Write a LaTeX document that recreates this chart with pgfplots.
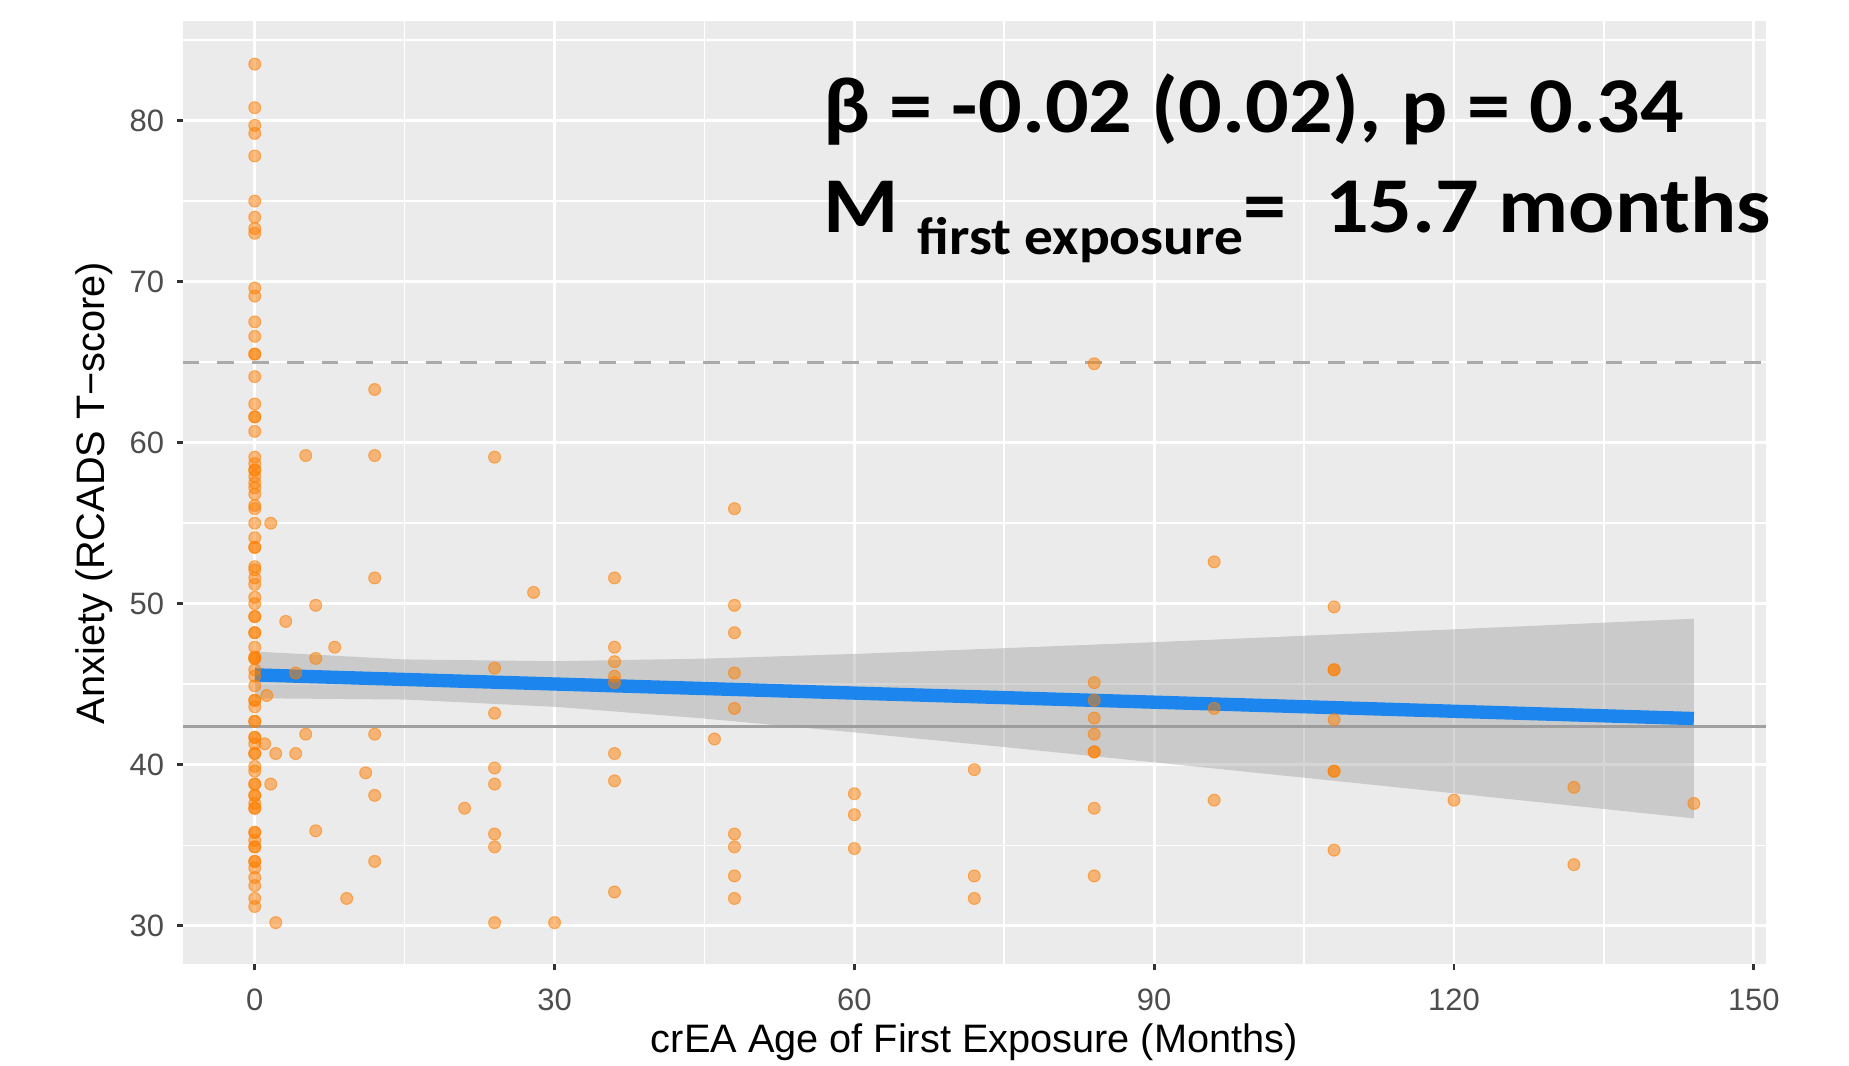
\documentclass[border=0pt]{standalone}
\usepackage{fontspec}
\setmainfont{Liberation Sans}
\newfontfamily\calib[FakeStretch=1.09]{Carlito}
\usepackage{pgfplots}
\pgfplotsset{compat=1.18}
\definecolor{panel}{RGB}{235,235,235}
\definecolor{ptorange}{RGB}{255,127,0}
\definecolor{fitblue}{RGB}{28,134,238}
\definecolor{ticktext}{RGB}{77,77,77}
\definecolor{tickmark}{RGB}{51,51,51}
\definecolor{refgray}{RGB}{160,160,160}
\definecolor{dashgray}{RGB}{170,170,170}
\definecolor{bandgray}{RGB}{153,153,153}

% anxiety T-scores by age of first exposure (months)
\pgfplotstableread{
x y
0 83.5
0 80.8
0 79.7
0 79.2
0 77.8
0 75.0
0 74.0
0 73.3
0 73.0
0 69.6
0 69.1
0 67.5
0 66.6
0 65.5
0 65.5
0 64.1
0 62.4
0 61.6
0 61.6
0 60.7
0 59.1
0 58.7
0 58.3
0 58.3
0 57.9
0 57.5
0 57.2
0 56.8
0 56.1
0 55.9
0 55.0
0 54.1
0 53.5
0 53.5
0 52.3
0 52.1
0 51.6
0 51.2
0 50.4
0 50.0
0 49.2
0 49.2
0 48.2
0 48.2
0 47.3
0 46.7
0 46.6
0 46.6
0 45.9
0 45.5
0 44.9
0 44.0
0 44.0
0 43.6
0 42.7
0 42.7
0 41.7
0 41.7
0 41.3
0 40.7
0 40.7
0 39.9
0 39.6
0 38.8
0 38.8
0 38.1
0 38.1
0 37.6
0 37.3
0 37.3
0 35.8
0 35.8
0 35.3
0 34.9
0 34.9
0 34.0
0 34.0
0 33.6
0 33.0
0 32.5
0 31.7
0 31.2
1.2 44.3
1.0 41.3
1.6 55.0
1.6 38.8
2.1 40.7
2.1 30.2
3.1 48.9
4.1 45.7
4.1 40.7
5.1 59.2
5.1 41.9
6.1 49.9
6.1 46.6
6.1 35.9
8.0 47.3
9.2 31.7
11.1 39.5
12 63.3
12 59.2
12 51.6
12 41.9
12 38.1
12 34.0
21 37.3
24 59.1
24 46.0
24 43.2
24 39.8
24 38.8
24 35.7
24 34.9
24 30.2
27.9 50.7
30 30.2
36 51.6
36 47.3
36 46.4
36 45.5
36 45.1
36 40.7
36 39.0
36 32.1
46 41.6
48 55.9
48 49.9
48 48.2
48 45.7
48 43.5
48 35.7
48 34.9
48 33.1
48 31.7
60 38.2
60 36.9
60 34.8
72 39.7
72 33.1
72 31.7
84 64.9
84 45.1
84 44.0
84 42.9
84 41.9
84 40.8
84 40.8
84 37.3
84 33.1
96 52.6
96 43.5
96 37.8
108 49.8
108 45.9
108 45.9
108 42.8
108 39.6
108 39.6
108 34.7
120 37.8
132 38.6
132 33.8
144 37.6
}\scores

\begin{document}
\begin{tikzpicture}
\path[use as bounding box] (-18.28mm,-10.15mm) rectangle (166.62mm,96.45mm);
\begin{axis}[
  scale only axis,
  width=158.3mm, height=94.3mm,
  xmin=-7.2, xmax=151.2, ymin=27.6, ymax=86.15,
  axis background/.style={fill=panel},
  axis line style={draw=none},
  xtick={0,30,...,150}, ytick={30,40,...,80},
  minor xtick={15,45,...,135}, minor ytick={35,45,...,85},
  grid=both,
  major grid style={white, line width=0.85pt},
  minor grid style={white, line width=0.45pt},
  tick align=outside, major tick length=0.6mm, minor tick length=0pt,
  xtick pos=bottom, ytick pos=left,
  tick style={tickmark, line width=0.85pt},
  /pgf/number format/assume math mode=true,
  ticklabel style={font=\fontsize{8.8}{10}\selectfont, text=ticktext, inner sep=0pt},
  xticklabel style={anchor=north},
  yticklabel style={anchor=east},
  xticklabel shift=1.75mm, yticklabel shift=1.2mm,
  xlabel={crEA Age of First Exposure (Months)},
  ylabel={Anxiety (RCADS T−score)},
  label style={font=\fontsize{11.3}{13}\selectfont},
  xlabel style={at={(axis description cs:0.5,-0.0822)}, anchor=center},
  ylabel style={at={(axis description cs:-0.0562,0.5)}, anchor=center},
  clip mode=individual,
]
\addplot[dashgray, line width=0.85pt, dash pattern=on 1.67mm off 1.8mm] coordinates {(-7.2,65) (151.2,65)};
\addplot[refgray, line width=0.85pt] coordinates {(-7.2,42.37) (151.2,42.37)};
% 95% confidence band
\addplot[draw=none, fill=bandgray, fill opacity=0.4] coordinates {
  (0,47.03) (15,46.54) (30,46.43) (45,46.59) (60,46.88) (75,47.24)
  (90,47.61) (105,48.01) (120,48.41) (144,49.07)
  (144,36.67) (120,38.23) (105,39.20) (90,40.15) (75,41.10) (60,42.01)
  (45,42.87) (30,43.60) (15,44.05) (0,44.13)
} -- cycle;
\addplot[fitblue, line width=3.8pt, line cap=butt] coordinates {(0,45.58) (144,42.87)};
\addplot[only marks, mark=*, mark size=1.7pt,
  mark options={fill=ptorange, fill opacity=0.5, draw=ptorange, draw opacity=0.55, line width=0.3pt}]
  table[x=x, y=y] {\scores};
\node[anchor=base west, inner sep=0pt, font=\calib\bfseries\fontsize{22.5}{26}\selectfont]
  at (axis cs:56.8,79.23) {β = -0.02 (0.02), p = 0.34};
\node[anchor=base west, inner sep=0pt, font=\calib\bfseries\fontsize{22.5}{26}\selectfont]
  at (axis cs:56.8,73.04) {M {\fontsize{15}{17}\selectfont\raisebox{-2.2mm}{first exposure}}=\ \ 15.7 months};
\end{axis}
\end{tikzpicture}
\end{document}
